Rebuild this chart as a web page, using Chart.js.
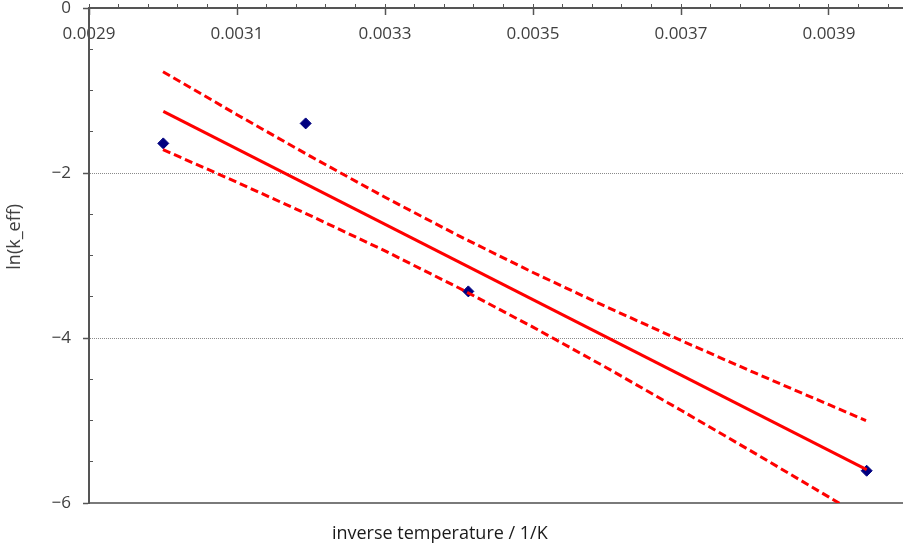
<!DOCTYPE html>
<html><head><meta charset="utf-8">
<script src="https://cdn.jsdelivr.net/npm/chart.js@4/dist/chart.umd.min.js"></script>
<style>html,body{margin:0;padding:0;background:#fff;} canvas{display:block;}</style>
</head><body>
<canvas id="c" width="903" height="547"></canvas>
<script>
// measured data points (inverse temperature, ln k_eff)
const pointX = [0.0030004, 0.0031928, 0.0034126, 0.0039509];
const pointY = [-1.641, -1.399, -3.435, -5.609];
// fitted line end points
const fitX = [0.0030004, 0.0039509];
const fitY = [-1.253, -5.595];
// confidence band (dashed) read at these x positions
const bandX = [0.0030, 0.0031, 0.0032, 0.0033, 0.0034, 0.0035, 0.0036, 0.0037, 0.0038, 0.0039, 0.00395];
const upperY = [-0.772, -1.293, -1.802, -2.294, -2.763, -3.206, -3.626, -4.030, -4.424, -4.809, -5.001];
const lowerY = [-1.717, -2.112, -2.520, -2.944, -3.394, -3.868, -4.363, -4.876, -5.398, -5.929, -6.196];
// axes
const xTickValues = [0.0029, 0.0031, 0.0033, 0.0035, 0.0037, 0.0039];
const xTickLabels = ['0.0029', '0.0031', '0.0033', '0.0035', '0.0037', '0.0039'];
const yTickValues = [0, -2, -4, -6];
const yTickLabels = ['0', '\u22122', '\u22124', '\u22126'];
const yMinorValues = [-0.5, -1, -1.5, -2.5, -3, -3.5, -4.5, -5, -5.5];
const xMinorValues = [];
for (let k = 0; k <= 27; k++) xMinorValues.push(+(0.0029 + k * 0.00004).toFixed(5));
const xTitleText = 'inverse temperature / 1/K';
const yTitleText = 'ln(k_eff)';

const FONT = "'Open Sans', 'Liberation Sans', sans-serif";
const TXT = '#404040';
const AX = '#555555';
Chart.defaults.font.family = FONT;

const toXY = (xs, ys) => xs.map((x, i) => ({x: x, y: ys[i]}));

new Chart(document.getElementById('c'), {
  type: 'scatter',
  data: {
    datasets: [
      { label: 'upper', data: toXY(bandX, upperY), showLine: true, borderColor: '#ff0000', borderWidth: 3,
        borderDash: [8, 4], pointRadius: 0, fill: false, tension: 0, xAxisID: 'x', yAxisID: 'y' },
      { label: 'lower', data: toXY(bandX, lowerY), showLine: true, borderColor: '#ff0000', borderWidth: 3,
        borderDash: [8, 4], pointRadius: 0, fill: false, tension: 0, xAxisID: 'x', yAxisID: 'y' },
      { label: 'fit', data: toXY(fitX, fitY), showLine: true, borderColor: '#ff0000', borderWidth: 3,
        pointRadius: 0, fill: false, tension: 0, xAxisID: 'x', yAxisID: 'y' },
      { label: 'data', data: toXY(pointX, pointY), showLine: false, pointStyle: 'rectRot', pointRadius: 5.5,
        pointBorderWidth: 1, backgroundColor: '#000080', borderColor: '#000080', xAxisID: 'x', yAxisID: 'y' }
    ]
  },
  options: {
    responsive: false,
    maintainAspectRatio: false,
    animation: false,
    devicePixelRatio: 1,
    layout: { padding: 0, autoPadding: false },
    plugins: { legend: { display: false }, tooltip: { enabled: false } },
    scales: {
      x: {
        type: 'linear', axis: 'x', position: { y: 0 }, min: 0.0029, max: 0.0040,
        afterBuildTicks: s => { s.ticks = xTickValues.map(v => ({ value: v })); },
        afterFit: s => { s.height = 0; s.paddingLeft = 0; s.paddingRight = 0; },
        ticks: { callback: (v, i) => xTickLabels[i], padding: 10, maxRotation: 0, autoSkip: false,
                 color: TXT, font: { family: FONT, size: 17 } },
        grid: { drawOnChartArea: false, tickLength: 6, tickColor: AX, tickWidth: 1.5 },
        border: { display: true, color: AX, width: 2 }
      },
      xTop: {
        type: 'linear', axis: 'x', position: 'top', weight: 0, min: 0.0029, max: 0.0040,
        afterBuildTicks: s => { s.ticks = xMinorValues.map(v => ({ value: v })); },
        afterFit: s => { s.height = 8; s.paddingLeft = 0; s.paddingRight = 0; },
        ticks: { display: false },
        grid: { drawOnChartArea: false, tickLength: 4, tickColor: AX, tickWidth: 1 },
        border: { display: false }
      },
      xBottom: {
        type: 'linear', axis: 'x', position: 'bottom', weight: 0, min: 0.0029, max: 0.0040,
        afterFit: s => { s.height = 0; s.paddingLeft = 0; s.paddingRight = 0; },
        ticks: { display: false },
        grid: { drawOnChartArea: false, drawTicks: false },
        border: { display: true, color: '#7a7a7a', width: 2 }
      },
      xTitle: {
        type: 'linear', axis: 'x', position: 'bottom', weight: 1, fullSize: true, min: 0.0029, max: 0.0040,
        afterFit: s => { s.height = 44; s.paddingLeft = 0; s.paddingRight = 0; },
        ticks: { display: false },
        grid: { display: false, drawTicks: false },
        border: { display: false },
        title: { display: true, text: xTitleText + '     ', color: '#1a1a1a',
                 font: { family: FONT, size: 18 }, padding: { top: 0, bottom: 2 } }
      },
      y: {
        type: 'linear', axis: 'y', position: 'left', weight: 1, min: -6, max: 0,
        afterBuildTicks: s => { s.ticks = yTickValues.map(v => ({ value: v })); },
        afterFit: s => { s.width = 89; s.paddingTop = 0; s.paddingBottom = 0; },
        ticks: { callback: (v, i) => yTickLabels[i], padding: 12, color: TXT, font: { family: FONT, size: 17 } },
        grid: {
          color: ctx => (ctx.tick && (ctx.tick.value === -2 || ctx.tick.value === -4)) ? '#8a8a8a' : 'rgba(0,0,0,0)',
          lineWidth: 1, tickLength: 6, tickColor: AX, tickWidth: 1.5
        },
        border: { display: true, color: AX, width: 2, dash: [1, 1] },
        title: { display: true, text: '        ' + yTitleText, color: TXT,
                 font: { family: FONT, size: 18 }, padding: { top: 4, bottom: 0 } }
      },
      yMinor: {
        type: 'linear', axis: 'y', position: 'left', weight: 0, min: -6, max: 0,
        afterBuildTicks: s => { s.ticks = yMinorValues.map(v => ({ value: v })); },
        afterFit: s => { s.width = 0; s.paddingTop = 0; s.paddingBottom = 0; },
        ticks: { display: false },
        grid: { drawOnChartArea: false, tickLength: -4, tickColor: AX, tickWidth: 1 },
        border: { display: false }
      }
    }
  }
});
</script>
</body></html>
